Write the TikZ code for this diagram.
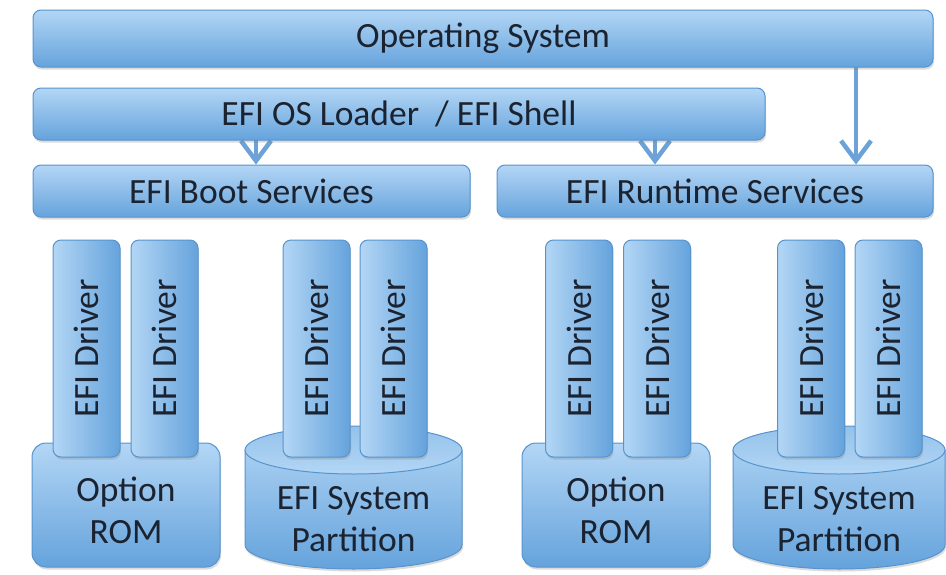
\documentclass[tikz,border=0pt]{standalone}
\usepackage{fontspec}
\setmainfont{Carlito}
\usetikzlibrary{arrows.meta,shadows}
\pgfdeclarelayer{paper}
\pgfdeclarelayer{bg}
\pgfsetlayers{paper,bg,main}
\definecolor{bTop}{HTML}{B3D6F5}
\definecolor{bBot}{HTML}{65A3DC}
\definecolor{bEdge}{HTML}{5794CE}
\definecolor{txt}{HTML}{1B2331}
\definecolor{arr}{HTML}{6CA2D7}
\tikzset{
  sh/.style={drop shadow={opacity=0.28, shadow xshift=1pt, shadow yshift=-2.5pt}},
  bar/.style={rectangle, rounded corners=8pt, draw=bEdge, line width=1pt,
    top color=bTop, bottom color=bBot, sh, text=txt, inner sep=0pt,
    font=\fontsize{35.5}{42}\selectfont},
  drv/.style={rectangle, rounded corners=8pt, draw=bEdge, line width=1pt,
    left color=bTop, right color=bBot, sh, text=txt, inner sep=0pt,
    minimum width=67pt, minimum height=217pt, font=\fontsize{35.5}{42}\selectfont},
  rom/.style={rectangle, rounded corners=14pt, draw=bEdge, line width=1pt,
    top color=bTop, bottom color=bBot, sh, minimum width=188pt, minimum height=124pt},
  lbl/.style={text=txt, align=center, inner sep=0pt, font=\fontsize{35.5}{42}\selectfont},
  conn/.style={draw=arr, line width=4.5pt,
    -{Straight Barb[length=20pt, width=30pt, line width=4.5pt]}},
}
\newcommand\mycyl[3]{% cx, rx, name
  \path[draw=bEdge, line width=1pt, top color=bTop!85!bBot, bottom color=bBot, sh]
    (#1-#2,450) -- (#1-#2,545)
    arc[start angle=180, end angle=360, x radius=#2pt, y radius=24pt]
    -- (#1+#2,450) -- cycle;
  \path[draw=bEdge, line width=1pt, top color=bTop!60!bBot, bottom color=bTop]
    (#1,450) ellipse[x radius=#2pt, y radius=24pt];
  \node[lbl] (#3) at (#1,519) {EFI System\\Partition};
}
\begin{document}
\begin{tikzpicture}[x=1pt,y=-1pt]
\useasboundingbox (0,0) rectangle (946,574);
\begin{pgfonlayer}{paper}
\fill[white] (0,0) rectangle (946,574);
\end{pgfonlayer}

% top bars
\node[bar, minimum width=900pt, minimum height=57pt] (os) at (483,38.5) {Operating System};
\node[bar, minimum width=732pt, minimum height=52pt] (ldr) at (399,114) {EFI OS Loader\ \ / EFI Shell};
\node[bar, minimum width=437pt, minimum height=52pt] (boot) at (251.5,191) {EFI Boot Services};
\node[bar, minimum width=436pt, minimum height=52pt] (rt) at (715,191) {EFI Runtime Services};

% connectors
\coordinate (a1) at (256,0);
\coordinate (a2) at (655,0);
\coordinate (a3) at (856,0);
\begin{pgfonlayer}{bg}
\draw[conn] (a1 |- ldr.center) -- (a1 |- boot.north);
\draw[conn] (a2 |- ldr.center) -- (a2 |- rt.north);
\draw[conn] (a3 |- os.center) -- (a3 |- rt.north);
\end{pgfonlayer}

% left option ROM
\node[rom] (rom1) at (126,505) {};
\node[lbl] (rom1t) at (126,510) {Option\\ROM};
\node[drv] (d1) at (86.5,348.5) {\rotatebox{90}{EFI Driver}};
\node[drv] (d2) at (164.5,348.5) {\rotatebox{90}{EFI Driver}};

% left partition
\mycyl{353.5}{108.5}{esp1}
\node[drv] (d3) at (316.5,348.5) {\rotatebox{90}{EFI Driver}};
\node[drv] (d4) at (393.5,348.5) {\rotatebox{90}{EFI Driver}};

% right option ROM
\node[rom] (rom2) at (616,505) {};
\node[lbl] (rom2t) at (616,510) {Option\\ROM};
\node[drv] (d5) at (579,348.5) {\rotatebox{90}{EFI Driver}};
\node[drv] (d6) at (657,348.5) {\rotatebox{90}{EFI Driver}};

% right partition
\mycyl{839}{106}{esp2}
\node[drv] (d7) at (811,348.5) {\rotatebox{90}{EFI Driver}};
\node[drv] (d8) at (888.5,348.5) {\rotatebox{90}{EFI Driver}};
\end{tikzpicture}
\end{document}
